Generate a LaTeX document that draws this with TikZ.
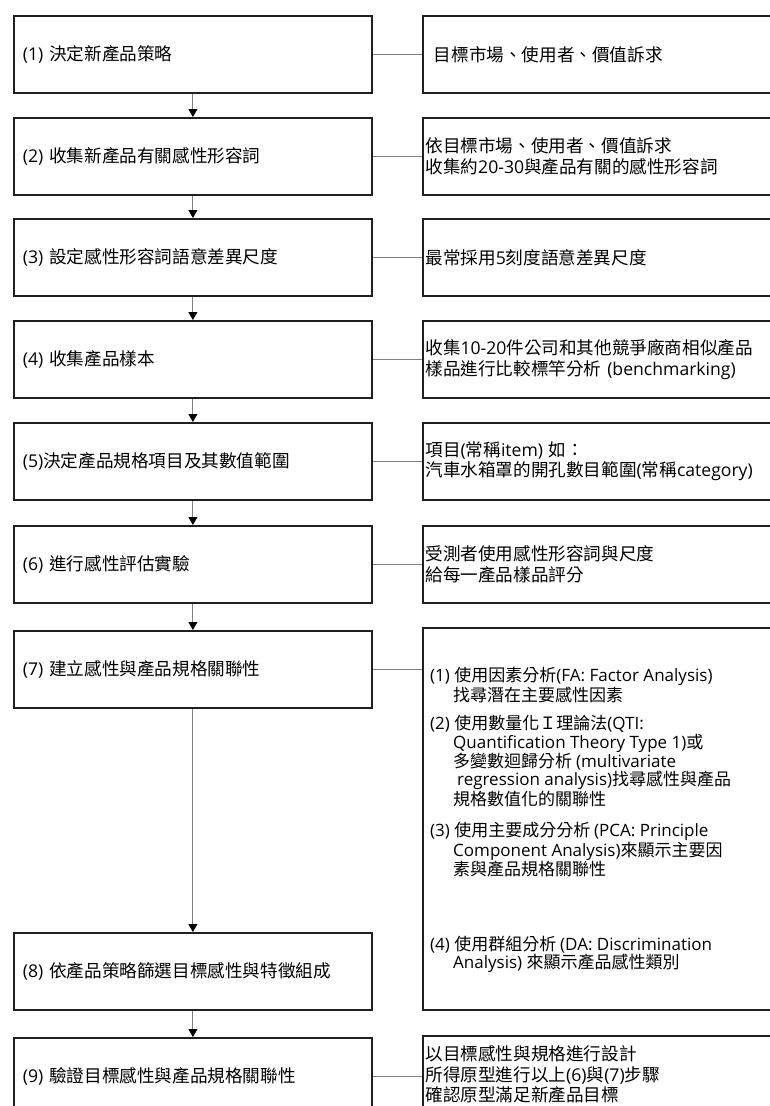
\documentclass[tikz,border=0pt]{standalone}
\usepackage{fontspec}
\setmainfont{Noto Sans CJK TC}
\newfontfamily\latfont{Open Sans}
\newfontfamily\cjkfont{Noto Sans CJK TC}
\usetikzlibrary{arrows.meta}
\XeTeXinterchartokenstate=1
\newXeTeXintercharclass\cjkcls
\makeatletter
\def\setcjkrange#1#2{\count@=#1\relax
  \loop\XeTeXcharclass\count@=\cjkcls\relax
  \ifnum\count@<#2\relax\advance\count@\@ne\repeat}
\setcjkrange{"3000}{"303F}
\setcjkrange{"4E00}{"9FFF}
\setcjkrange{"FF00}{"FFEF}
\makeatother
\XeTeXinterchartoks 0 \cjkcls={\cjkfont}
\XeTeXinterchartoks 4095 \cjkcls={\cjkfont}
\XeTeXinterchartoks \cjkcls 0={\latfont}
\XeTeXinterchartoks 4095 0={\latfont}
\newcommand\fsA{\fontsize{17.6pt}{20.5pt}\selectfont}
\newcommand\fsB{\fontsize{17pt}{16.6pt}\selectfont}
\tikzset{
  box/.style={draw=black!88, line width=1.8pt, anchor=north west, minimum height=77pt, align=left},
  lbox/.style={box, minimum width=358pt, text width=340pt, inner xsep=9pt, font=\fsA},
  rbox/.style={box, minimum width=380pt, text width=375pt, inner xsep=1.5pt, font=\fsA},
  conn/.style={draw=black!50, line width=0.9pt},
  arr/.style={draw=black!50, line width=0.9pt, -{Triangle[length=8pt,width=9pt,color=black]}},
  rtxt/.style={anchor=west, inner sep=0pt, align=left, font=\fsB}
}
\begin{document}
\begin{tikzpicture}[x=1pt,y=-1pt]
\useasboundingbox (0,0) rectangle (770,1106);
\clip (0,0) rectangle (770,1106);
\fill[white] (0,0) rectangle (770,1106);
% left column
\node[lbox] (l1) at (13,15)   {(1) 決定新產品策略};
\node[lbox] (l2) at (13,117)  {(2) 收集新產品有關感性形容詞};
\node[lbox] (l3) at (13,218)  {(3) 設定感性形容詞語意差異尺度};
\node[lbox] (l4) at (13,320)  {(4) 收集產品樣本};
\node[lbox] (l5) at (13,422)  {(5)決定產品規格項目及其數值範圍};
\node[lbox] (l6) at (13,525)  {(6) 進行感性評估實驗};
\node[lbox] (l7) at (13,630)  {(7) 建立感性與產品規格關聯性};
\node[lbox] (l8) at (13,932)  {(8) 依產品策略篩選目標感性與特徵組成};
\node[lbox] (l9) at (13,1037) {(9) 驗證目標感性與產品規格關聯性};
% right column
\node[rbox] (r1) at (422,15)   {\hspace*{8.5pt}目標市場、使用者、價值訴求};
\node[rbox] (r2) at (422,117)  {依目標市場、使用者、價值訴求\\收集約20-30與產品有關的感性形容詞};
\node[rbox] (r3) at (422,218)  {最常採用5刻度語意差異尺度};
\node[rbox] (r4) at (422,320)  {收集10-20件公司和其他競爭廠商相似產品\\樣品進行比較標竿分析 (benchmarking)};
\node[rbox] (r5) at (422,422)  {項目(常稱item) 如：\\汽車水箱罩的開孔數目範圍(常稱category)};
\node[rbox] (r6) at (422,525)  {受測者使用感性形容詞與尺度\\給每一產品樣品評分};
\node[rbox, minimum height=382pt] (r7) at (422,627) {};
\node[rbox] (r9) at (422,1035) {以目標感性與規格進行設計\\所得原型進行以上(6)與(7)步驟\\確認原型滿足新產品目標};
% texts of box 7
\node[rtxt] (g1) at (430,685) {(1) 使用因素分析(FA: Factor Analysis)\\\hspace*{23pt}找尋潛在主要感性因素};
\node[rtxt] (g2) at (430,761) {(2) 使用數量化Ｉ理論法(QTI:\\\hspace*{23pt}Quantification Theory Type 1)或\\\hspace*{23pt}多變數迴歸分析 (multivariate\\\hspace*{27pt}regression analysis)找尋感性與產品\\\hspace*{23pt}規格數值化的關聯性};
\node[rtxt] (g3) at (430,850) {(3) 使用主要成分分析 (PCA: Principle\\\hspace*{23pt}Component Analysis)來顯示主要因\\\hspace*{23pt}素與產品規格關聯性};
\node[rtxt] (g4) at (430,954) {(4) 使用群組分析 (DA: Discrimination\\\hspace*{23pt}Analysis) 來顯示產品感性類別};
% connectors
\draw[conn] (l1.east) -- (r1.west);
\draw[conn] (l2.east) -- (r2.west);
\draw[conn] (l3.east) -- (r3.west);
\draw[conn] (l4.east) -- (r4.west);
\draw[conn] (l5.east) -- (r5.west);
\draw[conn] (l6.east) -- (r6.west);
\draw[conn] (l7.east) -- (l7.east -| r7.west);
\draw[conn] (l9.east) -- (l9.east -| r9.west);
% arrows
\draw[arr] (l1.south) -- (l2.north);
\draw[arr] (l2.south) -- (l3.north);
\draw[arr] (l3.south) -- (l4.north);
\draw[arr] (l4.south) -- (l5.north);
\draw[arr] (l5.south) -- (l6.north);
\draw[arr] (l6.south) -- (l7.north);
\draw[arr] (l7.south) -- (l8.north);
\draw[arr] (l8.south) -- (l9.north);
\end{tikzpicture}
\end{document}
